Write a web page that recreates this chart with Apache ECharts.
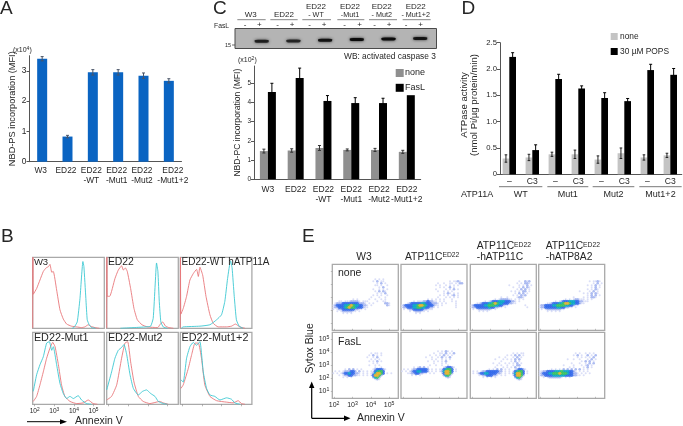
<!DOCTYPE html>
<html><head><meta charset="utf-8">
<style>html,body{margin:0;padding:0;background:#fff}#c{width:683px;height:426px}</style>
<script src="https://cdn.jsdelivr.net/npm/echarts@6/dist/echarts.min.js"></script>
</head><body><div id="c"></div>
<script>
// ---------- data: panel A
const catsA = ['W3','ED22','ED22\n-WT','ED22\n-Mut1','ED22\n-Mut2','ED22\n-Mut1+2'];
const psVal = [3.4,0.83,2.95,2.95,2.84,2.67];
const psErr = [0.07,0.04,0.09,0.09,0.09,0.07];
// panel C
const pcNone = [1.47,1.5,1.63,1.53,1.53,1.43];
const pcNoneErr = [0.1,0.09,0.13,0.05,0.08,0.08];
const pcFas = [4.55,5.27,4.08,3.97,3.97,4.38];
const pcFasErr = [0.45,0.52,0.28,0.28,0.25,0];
const laneGroups = ['W3','ED22','ED22-WT','ED22-Mut1','ED22-Mut2','ED22-Mut1+2'];
const bandPos = [7,7.2,8,8.7,9.3,9.8];
const bandStrength = [0.8,0.75,0.92,1,1,0.9];
// panel D
const catsD = ['–','C3','–','C3','–','C3','–','C3'];
const atpNone = [0.3,0.32,0.38,0.38,0.28,0.4,0.32,0.36];
const atpNoneErr = [0.07,0.06,0.04,0.08,0.07,0.1,0.05,0.04];
const atpPops = [2.23,0.46,1.81,1.63,1.45,1.39,1.98,1.89];
const atpPopsErr = [0.08,0.1,0.09,0.05,0.1,0.05,0.11,0.12];
// panel B: histograms [log10 annexin, % of max]
const hW3Red=[[1.9,0],[1.91,100],[1.93,48],[2.1,56],[2.27,68],[2.44,80],[2.58,85],[2.71,87],[2.78,90],[2.87,79],[2.95,80],[3.12,54],[3.29,26],[3.46,13],[3.63,6],[3.88,3],[4.14,2],[4.39,1],[4.56,2],[4.73,5],[4.85,3],[5.07,1],[5.3,0]];
const hW3Cyan=[[3.9,0],[4.0,1],[4.17,9],[4.31,42],[4.46,94],[4.51,87],[4.61,42],[4.68,12],[4.78,5],[4.9,1],[5.1,0]];
const hEdRed=[[1.9,0],[1.91,100],[1.93,45],[2.05,45],[2.32,70],[2.49,82],[2.66,88],[2.75,82],[2.85,85],[2.95,80],[3.12,56],[3.29,28],[3.46,12],[3.7,5],[3.97,2],[4.5,1],[4.61,5],[4.75,9],[4.9,3],[5.07,1],[5.3,0]];
const hEdCyan=[[2.6,0],[3.3,1],[3.9,2],[4.14,3],[4.27,14],[4.37,61],[4.44,92],[4.51,80],[4.58,38],[4.66,9],[4.78,2],[5.0,0]];
const hWtRed=[[1.9,0],[1.91,100],[1.93,20],[2.05,28],[2.22,45],[2.39,68],[2.56,77],[2.73,83],[2.82,73],[2.9,86],[3.04,75],[3.21,45],[3.41,19],[3.58,7],[3.83,2],[4.25,2],[4.51,3],[4.71,6],[4.93,2],[5.2,0]];
const hWtCyan=[[1.95,0],[2.05,2],[2.9,3],[3.41,5],[3.75,12],[4.0,19],[4.17,38],[4.31,70],[4.46,95],[4.54,85],[4.65,45],[4.76,12],[4.9,3],[5.1,0]];
const hM1Cyan=[[1.93,18],[2.1,41],[2.27,55],[2.44,66],[2.61,85],[2.75,87],[2.87,75],[2.95,80],[3.12,55],[3.29,29],[3.46,15],[3.63,8],[3.8,11],[3.97,8],[4.22,12],[4.39,6],[4.65,1],[4.9,0]];
const hM1Red=[[1.93,4],[2.1,11],[2.27,27],[2.44,45],[2.61,64],[2.78,78],[2.92,86],[3.04,80],[3.21,55],[3.37,27],[3.54,11],[3.8,4],[4.14,1],[4.48,2],[4.73,6],[4.98,1],[5.2,0]];
const hM2Cyan=[[1.9,20],[2.15,45],[2.32,64],[2.49,75],[2.66,79],[2.78,83],[2.92,69],[3.09,41],[3.26,22],[3.51,13],[3.73,18],[3.93,20],[4.14,15],[4.36,11],[4.53,4],[4.78,1],[5.0,0]];
const hM2Red=[[1.9,6],[2.15,11],[2.41,27],[2.66,64],[2.83,85],[2.97,87],[3.12,59],[3.29,31],[3.51,11],[3.76,4],[4.1,1],[4.61,4],[4.78,2],[5.04,0]];
const hM12Cyan=[[1.93,34],[2.05,31],[2.22,64],[2.39,80],[2.56,86],[2.73,82],[2.9,87],[3.07,45],[3.24,22],[3.41,13],[3.66,11],[3.92,6],[4.26,9],[4.51,7],[4.68,2],[4.95,0]];
const hM12Red=[[1.93,22],[2.05,27],[2.31,50],[2.48,69],[2.65,85],[2.82,85],[2.98,64],[3.15,27],[3.41,11],[3.75,5],[4.26,3],[4.59,2],[4.85,5],[5.02,1],[5.2,0]];
// panel E: density, one string per row (top row first), blank = no events
const fNoneW3=['','','','','','','',
"                     1 1 1","                    1 2 11","                      1 2 1","                     11 1  1","                       1 2","                    1  1 1 1","                     1 2 21","                      1 1 2","                    1 1 1  1","                   1   1  1","          1 1     1  1  1 1","   11 11122221 111    1  11"," 1222333333332221 1 1     221","123333445654433221 1       21","122333456554333211","1 1223333332211 1","  1 12222211 1","     1 1 1"];
const fNoneEd=['','','','','','','','',
"                        1 1121","                  1  1  11 1 22","                 1 1  1 1 1 1","                   1 1  2 1","                 1    1 1 2 1","                  1  1 1 1","                     1 21 1 1","                   1 1 1 12 1","                  1   1 1 1 1","             1 1 1 1 1   1","      1 1112232211 1 1   1 1","   1233333443332221 1 1    1","1233334456654333211 1      1","12233344554433221 1        1"," 1 1223333322111","    1 122211 1","       1 1"];
const fNone11C=['','','','','','','','',
"                        1  212","                       1 1 221","                   1    1 1 2 1","                     1  1 2 21","                       1 2 2 1","                    1 1 1 22 1","                      1 2 2 1","                     1 1 212","               1  1    1221","            1 1222211 1 1 1","       1 12333444333221 1","   11233344565443332211","1233333445554433211        1","1223333334332211 1          1"," 1 12222221 1","    1 1 1"];
const fNone8A=['','','','','','','','',
"                         1 1121","                           1 2 1","                        1 1 2 1","                          1 2 1","                        1 1 21","                    1    1 2 1","                      1 1 2 21","                        1 2 2 1","                 1    1 1 221","             1 1 122111 1 1","        1 123334443322111","    1123334456654433211","12233334455554433211","12233333344332211 1"," 1 1222222211","    1 1 1 1"];
const P=(s,n)=>s.padEnd(n);
const fFasW3=['','','','','','','','','','',
"                   1 11 1","                  1 2 1 1","                 1  1 2","                   1 1 1","                  1 1 2 1","                    1 1","                  1  1 1","                     1  1",
P("      1 2 2 1 1",19)+" 1233321",P(" 1 1 1222332 2 1 1 1",19)+"134553",P("1 1 1233433221 1 1 1",19)+"246653 1 1",P("   1 122332211 1 1",19)+"136652",P("     1 1 1",19)+" 2452",P("",19)+"  121"];
const fFasEd=['','','','','','','','','',
"                  1 1 21 1","                1  11 2 1 2","              1  1 1 2 1 1","            1  1  1 2 1 2","               1 1  1 1 1","             1  1 1 1 2","                1   1 1","              1  1  1  1",
P("      1 12 2 1",20)+" 123321",P(" 1 1 122333332 1 1 1",20)+"134553 1",P("1 1 1233443332 1 1 1",20)+"246653 1",P("   1122332211 1 1",20)+"136652",P("     1 1 1",20)+" 2452",P("",20)+"  121"];
const fFas11C=['','','','','','','','','','',
"                     1 1 11","                  1 1 2 2 1","              1  1   1 2 1","            1   1 1 1 2 2","               1    1 2 1","           1  1  1 1 1 2 1","             1 1  1  1 22","            1   1 1 1 2 1",
P("         1 1 2 2 1 1",21)+" 123321",P(" 1 1 12233333322 1 1",21)+"134553 1",P(" 1 1233443333221 1 1",21)+"246653 1",P("    1122333221 1 1",21)+"136652",P("      1 1 1 1",21)+" 2452",P("",21)+"  121"];
const fFas8A=['','','','','','','','','','',
"                  1 1  1 1 1","                 1 2 1  2 1 2","                   1 1 1 1 2","              1  1  1   1 2 1","                     1 2 2 1","                1   1  1 2 2","            1    1   1 12 1","               1 1    1 2 1","      1 1 1 2 2 2 2 2 1 1","1122333344454443321 1 1 1","12333445556555433221 1 1 1","122333344444433332211 1","  1 12222221 1 1"];
const eTitles=['W3','ATP11C{s|ED22}','ATP11C{s|ED22}\n-hATP11C','ATP11C{s|ED22}\n-hATP8A2'];

const TXT='#262626', FF='"Liberation Sans",Arial,sans-serif';
const font=(s,c)=>({fontFamily:FF,fontSize:s,color:c||TXT});
const sup={s:{fontFamily:FF,fontSize:5,color:TXT,verticalAlign:'top',lineHeight:5}};
const grid=[],xAxis=[],yAxis=[],series=[],graphic=[];
function addG(g,x,y){const i=grid.length;x.gridIndex=i;y.gridIndex=i;grid.push(g);xAxis.push(x);yAxis.push(y);return i;}
function T(x,y,text,size,o){graphic.push({type:'text',x,y,silent:true,rotation:(o&&o.rot)||0,z:10,style:Object.assign({text,font:size+'px '+FF,fill:TXT,textAlign:(o&&o.align)||'left',textVerticalAlign:'middle',verticalAlign:'middle'},o&&o.st||{})});}
function L(x1,y1,x2,y2,c,w){graphic.push({type:'line',silent:true,z:10,shape:{x1,y1,x2,y2},style:{stroke:c||'#555',lineWidth:w||1}});}
function errs(idx,vals,es,off,color,cap){series.push({type:'custom',xAxisIndex:idx,yAxisIndex:idx,z:5,silent:true,
 data:vals.map((v,i)=>[i,v,es[i]]),
 renderItem(p,api){const i=api.value(0),v=api.value(1),e=api.value(2);if(!e)return;
  const a=api.coord([i,v-e]),b=api.coord([i,v+e]);const x=a[0]+off,st={stroke:color,lineWidth:1};
  return {type:'group',children:[
   {type:'line',shape:{x1:x,y1:a[1],x2:x,y2:b[1]},style:st},
   {type:'line',shape:{x1:x-cap,y1:b[1],x2:x+cap,y2:b[1]},style:st},
   {type:'line',shape:{x1:x-cap,y1:a[1],x2:x+cap,y2:a[1]},style:st}]};}});}
const axLine={lineStyle:{color:'#555',width:1}}, tick={length:3,lineStyle:{color:'#555',width:1}};
const richTick=(sz)=>({customValues:[2,3,4,5],margin:3,formatter:v=>'10{s|'+v+'}',rich:{s:{fontFamily:FF,fontSize:sz-1.8,color:TXT,verticalAlign:'top',lineHeight:5}},fontFamily:FF,fontSize:sz,color:TXT});

// ---- A
let g=addG({left:29.5,top:55.7,width:152,height:106},
 {type:'category',data:catsA.map((c,i)=>({value:c,textStyle:{padding:i===5?[0,0,0,8]:[0,3,0,0]}})),axisLine:axLine,axisTick:Object.assign({},tick),axisLabel:Object.assign(font(8.4),{margin:4,lineHeight:10,interval:0})},
 {type:'value',min:0,max:3.5,interval:1,name:'NBD-PS incorporation (MFI)',nameLocation:'middle',nameGap:13,nameMoveOverlap:false,nameTextStyle:font(9.2),axisLine:Object.assign({show:true},axLine),axisTick:Object.assign({show:true},tick),splitLine:{show:false},axisLabel:Object.assign(font(8.4),{margin:3,showMaxLabel:false})});
series.push({type:'bar',name:'PS',xAxisIndex:g,yAxisIndex:g,data:psVal,barWidth:10,itemStyle:{color:'#0a64c2'}});
errs(g,psVal,psErr,0,'#4a5568',1.5);
// ---- C bars
g=addG({left:254,top:66,width:166.7,height:113.3},
 {type:'category',data:catsA,axisLine:axLine,axisTick:tick,axisLabel:Object.assign(font(8.5),{margin:5,lineHeight:10,interval:0})},
 {type:'value',min:0,max:5.9,interval:1,name:'NBD-PC incorporation (MFI)',nameLocation:'middle',nameGap:12,nameMoveOverlap:false,nameTextStyle:font(8.6),axisLine:Object.assign({show:true},axLine),axisTick:Object.assign({show:true},tick),splitLine:{show:false},axisLabel:Object.assign(font(6.5),{margin:3,showMaxLabel:false})});
series.push({type:'bar',name:'none',xAxisIndex:g,yAxisIndex:g,data:pcNone,barWidth:8,barGap:0,itemStyle:{color:'#8f8f8f'}});
series.push({type:'bar',name:'FasL',xAxisIndex:g,yAxisIndex:g,data:pcFas,barWidth:8,barGap:0,itemStyle:{color:'#000'}});
errs(g,pcNone,pcNoneErr,-4,'#333',1.5);
errs(g,pcFas,pcFasErr,4,'#000',1.5);
// ---- C blot
graphic.push({type:'rect',z:-1,silent:true,shape:{x:235,y:28.5,width:201.5,height:20},style:{fill:'#b4b4b4',stroke:'#4a4a4a',lineWidth:1}});
g=addG({left:245.85,top:28.3,width:190.2,height:20},
 {type:'category',show:false,data:laneGroups},{type:'value',show:false,min:0,max:20,splitLine:{show:false}});
series.push({type:'scatter',name:'caspase',xAxisIndex:g,yAxisIndex:g,symbol:'roundRect',symbolSize:[14,3],data:bandPos.map((v,i)=>({value:[i,v],itemStyle:{opacity:bandStrength[i]}})),itemStyle:{color:'#0c0c0c',shadowBlur:3,shadowColor:'#222'}});
// ---- D
g=addG({left:497.8,top:42.7,width:184,height:131.6},
 {type:'category',data:catsD,axisLine:axLine,axisTick:{show:false},axisLabel:Object.assign(font(8.6),{margin:3,interval:0})},
 {type:'value',min:0,max:2.5,interval:0.5,offset:-2.2,name:'ATPase activity\n(nmol Pi/µg protein/min)',nameLocation:'middle',nameGap:21,nameMoveOverlap:false,nameTextStyle:Object.assign(font(9.6),{lineHeight:9.5,padding:[0,0,0,7]}),axisLine:Object.assign({show:true},axLine),axisTick:Object.assign({show:true},tick),splitLine:{show:false},axisLabel:Object.assign(font(7.7),{margin:3,formatter:v=>v===0?'0':v.toFixed(1)})});
series.push({type:'bar',name:'none',xAxisIndex:g,yAxisIndex:g,data:atpNone,barWidth:6.7,barGap:0,itemStyle:{color:'#c4c4c4'}});
series.push({type:'bar',name:'30 µM POPS',xAxisIndex:g,yAxisIndex:g,data:atpPops,barWidth:6.7,barGap:0,itemStyle:{color:'#000'}});
errs(g,atpNone,atpNoneErr,-3.35,'#222',1.3);
errs(g,atpPops,atpPopsErr,3.35,'#000',1.5);
// ---- B
const hPan=[['W3',hW3Red,hW3Cyan,9.5],['ED22',hEdRed,hEdCyan,10.4],['ED22-WT hATP11A',hWtRed,hWtCyan,10],
 ['ED22-Mut1',hM1Red,hM1Cyan,10.8],['ED22-Mut2',hM2Red,hM2Cyan,10.8],['ED22-Mut1+2',hM12Red,hM12Cyan,10.8]];
const hX=[32.7,106.7,180.3],hY=[257.3,332.3],hH=[71,72];
hPan.forEach((p,i)=>{const r=i<3?0:1,c=i%3;
 const gi=addG({show:true,left:hX[c],top:hY[r],width:71.6,height:hH[r],borderColor:'#a9a9a9',borderWidth:1.3,backgroundColor:'#fff'},
  {type:'value',min:1.9,max:5.55,splitLine:{show:false},axisLine:{show:false},
   axisTick:{show:r===1,length:2,lineStyle:{color:'#888',width:.6},customValues:[2,3,4,5]},
   axisLabel:Object.assign({show:r===1&&c===0},richTick(6.6))},
  {type:'value',show:false,min:0,max:100,splitLine:{show:false}});
 [[p[1],'#e9777a'],[p[2],'#3cc8d2']].forEach(s=>series.push({type:'line',name:p[0],xAxisIndex:gi,yAxisIndex:gi,data:s[0],showSymbol:false,smooth:0.15,clip:true,lineStyle:{color:s[1],width:.9},itemStyle:{color:s[1]}}));
 const ly=hY[r]+(r?5.7:4.7);
 T(hX[c]+1.2,ly,p[0],p[3]);
});
// ---- E
const eC=[null,'#d3d8f6','#9fb0ee','#2f66ea','#08a6c6','#38c25c','#e6b22c'];
const eM=[fNoneW3,fNoneEd,fNone11C,fNone8A,fFasW3,fFasEd,fFas11C,fFas8A];
const eX=[332.3,401,470.3,538.7],eY=[264.3,332.3];
eM.forEach((rows,i)=>{const r=i<4?0:1,c=i%4;
 const gi=addG({show:true,left:eX[c],top:eY[r],width:66,height:66,borderColor:'#a9a9a9',borderWidth:1.3,backgroundColor:'#fff'},
  {type:'value',min:1.9,max:5.5,splitLine:{show:false},axisLine:{show:false},
   axisTick:{show:true,length:1.5,inside:true,lineStyle:{color:'#999',width:.6},customValues:[2,3,4,5]},
   axisLabel:Object.assign({show:r===1&&c===0},richTick(7))},
  {type:'value',min:0.42,max:5.5,splitLine:{show:false},axisLine:{show:false},
   axisTick:{show:c===0,length:1.5,lineStyle:{color:'#999',width:.6},customValues:[1,2,3,4,5]},
   axisLabel:Object.assign({show:r===1&&c===0},richTick(7),{customValues:[1,2,3,4,5]})});
 const pts=[];rows.forEach((s,ri)=>{[...s].forEach((ch,ci)=>{if(ch!==' ')pts.push([1.9+(ci+.5)*3.6/33,5.5-(ri+.5)*5.08/33,+ch]);});});
 pts.sort((a,b)=>a[2]-b[2]);
 series.push({type:'scatter',name:'E'+i,xAxisIndex:gi,yAxisIndex:gi,data:pts,silent:true,
  symbolSize:v=>v[2]>=3?3.2:(v[2]===2?2.6:2),itemStyle:{color:p=>eC[p.data[2]],opacity:.85}});
});
// ---- annotations
[['A',0,8.5],['B',1,237],['E',302,237],['C',213,8.5],['D',461.5,9]].forEach(a=>T(a[1],a[2],a[0],19));
graphic.push({type:'text',x:13,y:50,z:10,style:{text:'(x10{s|4})',font:'7px '+FF,fill:TXT,verticalAlign:'middle',rich:sup}});
graphic.push({type:'text',x:238,y:60,z:10,style:{text:'(x10{s|2})',font:'7px '+FF,fill:TXT,verticalAlign:'middle',rich:sup}});
// blot header
[['W3',250.7,15],['ED22',284,15],['ED22',316,6.5],['ED22',350,6.5],['ED22',381.7,6.5],['ED22',415.7,6.5]].forEach(a=>T(a[1],a[2],a[0],8,{align:'center'}));
[['- WT',316],['-Mut1',350],['- Mut2',381.7],['- Mut1+2',415.7]].forEach(a=>T(a[1],15,a[0],7.2,{align:'center'}));
[[37,122],[136,218],[232,318],[337,418],[432,516],[533,617]].forEach(a=>L(225+a[0]/3,19.7,225+a[1]/3,19.7,'#666',.8));
[60,103,158,201,254,297,359,404,449,492,543,587].forEach((x,i)=>T(225+x/3,24.3,i%2?'+':'-',8,{align:'center'}));
T(214,26,'FasL',6.8);T(225,45,'15',5.5);L(232,45,235,45,'#444',.8);
T(344,56.7,'WB: activated caspase 3',8.35);
// legends' texts
T(405,73,'none',9);T(405,87.8,'FasL',9);
T(620,36.5,'none',8.4);T(620,51.5,'30 µM POPS',8.4);
// D footer
[[147,277,'WT'],[292,415,'Mut1'],[428,553,'Mut2'],[568,695,'Mut1+2']].forEach(a=>{L(450+a[0]/3,186.7,450+a[1]/3,186.7,'#555',.8);T(450+(a[0]+a[1])/6,195,a[2],9,{align:'center'});});
T(461,195,'ATP11A',9);
// B footer
L(27,421.7,62,421.7,'#000',1);
graphic.push({type:'polygon',silent:true,shape:{points:[[67,421.7],[60,419.2],[60,424.2]]},style:{fill:'#000'}});
T(75,421,'Annexin V',10.5);
// E footer
L(311.7,418.3,311.7,387,'#000',1.2);L(311.7,418.3,345,418.3,'#000',1.2);
graphic.push({type:'polygon',silent:true,shape:{points:[[311.7,381.5],[309,388],[314.4,388]]},style:{fill:'#000'}});
graphic.push({type:'polygon',silent:true,shape:{points:[[350.5,418.3],[344,415.6],[344,421]]},style:{fill:'#000'}});
T(357,418,'Annexin V',10.5);
T(310,348.3,'Sytox Blue',10.5,{rot:Math.PI/2,align:'center'});
T(338,273,'none',10.5);T(338,341.7,'FasL',10.5);
// E titles
graphic.push({type:'text',x:364,y:257.5,z:10,style:{text:'W3',font:'10.3px '+FF,fill:TXT,align:'center',verticalAlign:'middle'}});
[[405,257.5,eTitles[1]],[476.7,252,eTitles[2]],[545.7,252,eTitles[3]]].forEach(a=>graphic.push({type:'text',x:a[0],y:a[1],z:10,style:{text:a[2],font:'10.3px '+FF,fill:TXT,lineHeight:10.8,verticalAlign:'middle',rich:{s:{fontFamily:FF,fontSize:6.8,fill:TXT,verticalAlign:'top',lineHeight:6}}}}));

const chart=echarts.init(document.getElementById('c'),null,{renderer:'canvas'});
chart.setOption({animation:false,backgroundColor:'#fff',grid,xAxis,yAxis,series,graphic:{elements:graphic},
 legend:[
  {left:395.7,top:69,padding:0,icon:'rect',itemWidth:8,itemHeight:8,itemGap:6.8,orient:'vertical',selectedMode:false,formatter:()=>' ',textStyle:{fontSize:1,lineHeight:1},
   data:[{name:'none',itemStyle:{color:'#8f8f8f'}},{name:'FasL',itemStyle:{color:'#000'}}]},
  {left:610.7,top:33,padding:0,icon:'rect',itemWidth:7,itemHeight:7,itemGap:8,orient:'vertical',selectedMode:false,formatter:()=>' ',textStyle:{fontSize:1,lineHeight:1},
   data:[{name:'none',itemStyle:{color:'#c4c4c4'}},{name:'30 µM POPS',itemStyle:{color:'#000'}}]}]});
</script></body></html>
